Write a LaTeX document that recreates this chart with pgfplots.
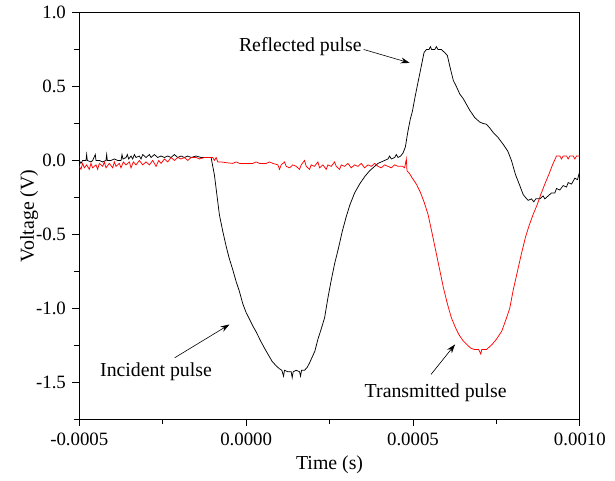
\documentclass[border=0pt]{standalone}
\usepackage{fontspec}
\setmainfont{Liberation Serif}
\usepackage{pgfplots}
\pgfplotsset{compat=1.18}
\usetikzlibrary{arrows.meta}
\begin{document}
\fontsize{19}{22}\selectfont
\begin{tikzpicture}
\begin{axis}[
 scale only axis, width=505pt, height=410pt,
 xmin=-0.0005, xmax=0.001, ymin=-1.75, ymax=1.0,
 xtick={-0.0005,0,0.0005,0.001}, xticklabels={-0.0005,0.0000,0.0005,0.0010},
 minor xtick={-0.00025,0.00025,0.00075},
 ytick={-1.5,-1,-0.5,0,0.5,1}, yticklabels={-1.5,-1.0,-0.5,0.0,0.5,1.0},
 minor ytick={-1.75,-1.25,-0.75,-0.25,0.25,0.75},
 scaled x ticks=false,
 tick align=outside, xtick pos=left, ytick pos=left,
 major tick length=7pt, minor tick length=5pt,
 tick style={black, line width=1pt},
 axis line style={line width=1pt},
 ticklabel style={font=\fontsize{19}{22}\selectfont},
 label style={font=\fontsize{20}{24}\selectfont},
 xlabel={Time (s)}, ylabel={Voltage (V)},
 xlabel style={yshift=2pt},
 ylabel style={yshift=-15pt},
]
\addplot[black, line width=0.75pt] coordinates {
(-0.000500,0.00) (-0.000495,-0.02) (-0.000490,0.00) (-0.000480,0.00) (-0.000478,0.04) (-0.000476,0.00)
(-0.000465,-0.01) (-0.000460,0.00) (-0.000452,0.04) (-0.000450,0.00) (-0.000440,0.00) (-0.000430,-0.01)
(-0.000420,0.00) (-0.000418,0.04) (-0.000416,0.00) (-0.000405,0.00) (-0.000395,0.01) (-0.000385,0.00)
(-0.000375,0.00) (-0.000372,0.04) (-0.000369,0.01) (-0.000360,0.02) (-0.000356,0.04) (-0.000352,0.01)
(-0.000345,0.03) (-0.000340,0.01) (-0.000335,0.04) (-0.000330,0.02) (-0.000320,0.03) (-0.000315,0.01)
(-0.000310,0.04) (-0.000300,0.02) (-0.000290,0.04) (-0.000285,0.02) (-0.000275,0.04) (-0.000265,0.02)
(-0.000255,0.03) (-0.000245,0.02) (-0.000235,0.03) (-0.000225,0.02) (-0.000215,0.04) (-0.000205,0.02)
(-0.000195,0.03) (-0.000185,0.02) (-0.000175,0.03) (-0.000165,0.02) (-0.000150,0.03) (-0.000135,0.02)
(-0.000120,0.02) (-0.000105,0.02)
(-0.000095,-0.10) (-0.000085,-0.28) (-0.000080,-0.37) (-0.000070,-0.48) (-0.000060,-0.58) (-0.000051,-0.66)
(-0.000040,-0.74) (-0.000030,-0.82) (-0.000021,-0.88) (-0.000010,-0.97) (0.000000,-1.03) (0.000008,-1.065)
(0.000020,-1.12) (0.000030,-1.16) (0.000043,-1.22) (0.000055,-1.27) (0.000065,-1.31) (0.000078,-1.36)
(0.000090,-1.39) (0.000100,-1.41) (0.000107,-1.42) (0.000112,-1.46) (0.000115,-1.42) (0.000125,-1.43)
(0.000135,-1.43) (0.000138,-1.47) (0.000141,-1.43) (0.000150,-1.42) (0.000160,-1.43) (0.000163,-1.46)
(0.000166,-1.42) (0.000175,-1.42) (0.000183,-1.40) (0.000190,-1.37) (0.000198,-1.33) (0.000206,-1.29)
(0.000215,-1.21) (0.000225,-1.14) (0.000235,-1.065) (0.000245,-0.93) (0.000255,-0.81) (0.000265,-0.70)
(0.000277,-0.59) (0.000288,-0.48) (0.000300,-0.38) (0.000311,-0.30) (0.000325,-0.22) (0.000340,-0.16)
(0.000355,-0.11) (0.000370,-0.07) (0.000385,-0.04) (0.000395,-0.02) (0.000405,-0.01) (0.000415,0.00)
(0.000425,0.01) (0.000430,0.03) (0.000435,0.01) (0.000445,0.02) (0.000450,0.04) (0.000455,0.02)
(0.000463,0.03) (0.000470,0.05) (0.000477,0.09) (0.000485,0.20) (0.000492,0.28) (0.000498,0.33)
(0.000507,0.44) (0.000516,0.54) (0.000525,0.64) (0.000533,0.73) (0.000540,0.75) (0.000548,0.75)
(0.000552,0.77) (0.000556,0.75) (0.000565,0.75) (0.000570,0.77) (0.000575,0.75) (0.000585,0.75)
(0.000595,0.73) (0.000603,0.71) (0.000610,0.64) (0.000621,0.54) (0.000630,0.50) (0.000640,0.45)
(0.000650,0.42) (0.000660,0.38) (0.000670,0.34) (0.000685,0.29) (0.000700,0.26) (0.000710,0.25)
(0.000720,0.245) (0.000730,0.22) (0.000740,0.19) (0.000755,0.155) (0.000770,0.11) (0.000784,0.063)
(0.000795,0.00) (0.000807,-0.095) (0.000820,-0.17) (0.000830,-0.23) (0.000837,-0.25) (0.000845,-0.27)
(0.000855,-0.26) (0.000862,-0.28) (0.000868,-0.26) (0.000880,-0.26) (0.000890,-0.24) (0.000895,-0.26)
(0.000905,-0.24) (0.000915,-0.22) (0.000925,-0.22) (0.000930,-0.19) (0.000940,-0.20) (0.000950,-0.17)
(0.000960,-0.18) (0.000965,-0.15) (0.000975,-0.16) (0.000985,-0.12) (0.000993,-0.13) (0.001000,-0.07)
};
\addplot[red, line width=0.75pt] coordinates {
(-0.000500,-0.04) (-0.000495,-0.06) (-0.000490,-0.02) (-0.000485,-0.05) (-0.000478,-0.03) (-0.000470,-0.06)
(-0.000465,-0.02) (-0.000460,-0.05) (-0.000450,-0.03) (-0.000445,-0.06) (-0.000440,-0.02) (-0.000430,-0.04)
(-0.000425,-0.01) (-0.000420,-0.05) (-0.000410,-0.02) (-0.000400,-0.05) (-0.000395,-0.01) (-0.000390,-0.04)
(-0.000380,-0.02) (-0.000375,-0.05) (-0.000368,-0.01) (-0.000360,-0.03) (-0.000350,-0.01) (-0.000345,-0.05)
(-0.000338,-0.01) (-0.000330,-0.03) (-0.000320,0.00) (-0.000310,-0.03) (-0.000300,-0.01) (-0.000290,-0.03)
(-0.000280,0.00) (-0.000270,-0.04) (-0.000262,0.00) (-0.000255,-0.02) (-0.000245,0.01) (-0.000235,-0.01)
(-0.000225,0.02) (-0.000215,0.00) (-0.000205,0.02) (-0.000195,0.01) (-0.000185,0.02) (-0.000175,0.00)
(-0.000165,0.02) (-0.000150,0.02) (-0.000140,0.01) (-0.000125,0.02) (-0.000110,0.02) (-0.000100,0.02)
(-0.000095,0.00) (-0.000090,0.02) (-0.000085,-0.01) (-0.000075,-0.01) (-0.000060,-0.015) (-0.000040,-0.02)
(-0.000030,-0.01) (-0.000020,-0.02) (0.000000,-0.02) (0.000020,-0.02) (0.000030,-0.01) (0.000040,-0.02)
(0.000060,-0.02) (0.000070,-0.01) (0.000080,-0.02) (0.000095,-0.03) (0.000100,-0.06) (0.000105,-0.03)
(0.000115,-0.01) (0.000120,-0.04) (0.000130,-0.05) (0.000140,-0.03) (0.000150,-0.04) (0.000160,-0.06)
(0.000165,-0.03) (0.000175,0.00) (0.000180,-0.04) (0.000190,-0.06) (0.000195,-0.03) (0.000205,-0.04)
(0.000215,-0.01) (0.000220,-0.05) (0.000230,-0.03) (0.000240,-0.06) (0.000245,-0.03) (0.000255,-0.04)
(0.000265,-0.01) (0.000270,-0.04) (0.000280,-0.06) (0.000285,-0.03) (0.000295,-0.04) (0.000305,-0.02)
(0.000315,-0.05) (0.000325,-0.03) (0.000335,-0.04) (0.000345,-0.02) (0.000355,-0.05) (0.000365,-0.03)
(0.000375,-0.04) (0.000385,-0.02) (0.000395,-0.04) (0.000405,-0.05) (0.000415,-0.03) (0.000425,-0.04)
(0.000435,-0.05) (0.000445,-0.03) (0.000455,-0.04) (0.000462,-0.04) (0.000469,-0.04) (0.000475,-0.05)
(0.000480,0.01) (0.000482,-0.07) (0.000490,-0.09) (0.000498,-0.12) (0.000510,-0.16) (0.000521,-0.21)
(0.000533,-0.28) (0.000545,-0.365) (0.000556,-0.48) (0.000568,-0.61) (0.000580,-0.74) (0.000591,-0.86)
(0.000603,-0.97) (0.000615,-1.065) (0.000627,-1.13) (0.000638,-1.18) (0.000650,-1.22) (0.000661,-1.245)
(0.000673,-1.27) (0.000685,-1.28) (0.000697,-1.28) (0.000703,-1.31) (0.000706,-1.28) (0.000720,-1.28)
(0.000737,-1.245) (0.000750,-1.21) (0.000766,-1.155) (0.000778,-1.08) (0.000790,-1.00) (0.000800,-0.88)
(0.000813,-0.75) (0.000825,-0.63) (0.000837,-0.52) (0.000848,-0.44) (0.000860,-0.365) (0.000872,-0.30)
(0.000883,-0.23) (0.000895,-0.16) (0.000907,-0.095) (0.000918,-0.03) (0.000930,0.03) (0.000940,0.03)
(0.000945,0.01) (0.000950,0.03) (0.000960,0.03) (0.000965,0.01) (0.000970,0.03) (0.000980,0.03)
(0.000985,0.01) (0.000990,0.03) (0.001000,0.03)
};
\draw[-{Stealth[length=9pt,width=6pt]}, line width=0.6pt] (axis cs:0.000352,0.751) -- (axis cs:0.000490,0.66);
\draw[-{Stealth[length=9pt,width=6pt]}, line width=0.6pt] (axis cs:-0.000214,-1.335) -- (axis cs:-0.00005,-1.11);
\draw[-{Stealth[length=9pt,width=6pt]}, line width=0.6pt] (axis cs:0.000554,-1.448) -- (axis cs:0.000626,-1.245);
\node[anchor=east, font=\fontsize{20}{24}\selectfont, inner sep=1pt] at (axis cs:0.000350,0.77) {Reflected pulse};
\node[font=\fontsize{20}{24}\selectfont] at (axis cs:-0.00027,-1.43) {Incident pulse};
\node[font=\fontsize{20}{24}\selectfont] at (axis cs:0.000568,-1.575) {Transmitted pulse};
\end{axis}
\path ([xshift=-14pt]current bounding box.west) ([xshift=3pt]current bounding box.east);
\end{tikzpicture}
\end{document}
